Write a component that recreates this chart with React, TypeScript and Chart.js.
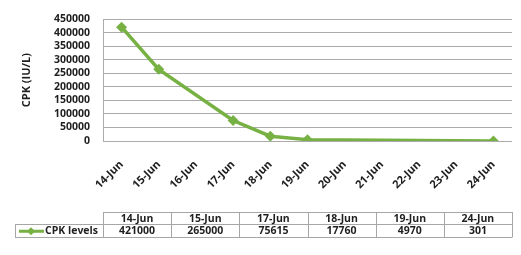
import React, { useEffect, useRef } from "react";
import { Chart, registerables } from "chart.js";

Chart.register(...registerables);

const categories = ["14-Jun", "15-Jun", "16-Jun", "17-Jun", "18-Jun", "19-Jun", "20-Jun", "21-Jun", "22-Jun", "23-Jun", "24-Jun"];
const cpkValues: (number | null)[] = [421000, 265000, null, 75615, 17760, 4970, null, null, null, null, 301];
const tableDates = ["14-Jun", "15-Jun", "17-Jun", "18-Jun", "19-Jun", "24-Jun"];
const tableValues = [421000, 265000, 75615, 17760, 4970, 301];
const seriesName = "CPK levels";
const yTitle = "CPK (IU/L)";

const GREEN = "#77b144";
const FONT = "'Open Sans', sans-serif";
const TEXT = "#1f1f1f";

const tablePlugin = {
  id: "dataTable",
  afterDraw(chart: any) {
    const ctx = chart.ctx as CanvasRenderingContext2D;
    const xs = chart.scales.x;
    const left = xs.left;
    const right = xs.right;
    const top = 212;
    const mid = 224.5;
    const bottom = 237;
    const legendLeft = 15;
    const n = tableDates.length;
    const w = (right - left) / n;
    ctx.save();
    ctx.strokeStyle = "#a6a6a6";
    ctx.lineWidth = 1;
    ctx.beginPath();
    ctx.moveTo(left, top + 0.5);
    ctx.lineTo(right, top + 0.5);
    ctx.moveTo(legendLeft, mid);
    ctx.lineTo(right, mid);
    ctx.moveTo(legendLeft, bottom + 0.5);
    ctx.lineTo(right, bottom + 0.5);
    ctx.moveTo(legendLeft + 0.5, mid);
    ctx.lineTo(legendLeft + 0.5, bottom + 0.5);
    for (let i = 0; i <= n; i++) {
      const x = Math.round(left + i * w) + 0.5;
      ctx.moveTo(x, top);
      ctx.lineTo(x, bottom + 0.5);
    }
    ctx.stroke();

    ctx.fillStyle = TEXT;
    ctx.font = `bold 10.5px ${FONT}`;
    ctx.textAlign = "center";
    ctx.textBaseline = "middle";
    for (let i = 0; i < n; i++) {
      const cx = left + (i + 0.5) * w;
      ctx.fillText(tableDates[i], cx, (top + mid) / 2 + 0.5);
      ctx.fillText(String(tableValues[i]), cx, (mid + bottom) / 2 + 0.5);
    }
    const ly = (mid + bottom) / 2 + 0.5;
    ctx.strokeStyle = GREEN;
    ctx.lineWidth = 3;
    ctx.beginPath();
    ctx.moveTo(19, ly);
    ctx.lineTo(44, ly);
    ctx.stroke();
    ctx.fillStyle = GREEN;
    ctx.beginPath();
    ctx.moveTo(31, ly - 4);
    ctx.lineTo(35, ly);
    ctx.lineTo(31, ly + 4);
    ctx.lineTo(27, ly);
    ctx.closePath();
    ctx.fill();
    ctx.fillStyle = TEXT;
    ctx.textAlign = "left";
    ctx.font = `bold 10.5px ${FONT}`;
    ctx.fillText(seriesName, 45, ly);
    ctx.restore();
  },
};

export default function App() {
  const ref = useRef<HTMLCanvasElement | null>(null);
  useEffect(() => {
    document.body.style.margin = "0";
    const canvas = ref.current!;
    const chart = new Chart(canvas, {
      type: "line",
      data: {
        labels: categories,
        datasets: [
          {
            label: seriesName,
            data: cpkValues,
            borderColor: GREEN,
            backgroundColor: GREEN,
            borderWidth: 3.5,
            pointStyle: "rectRot",
            pointRadius: 5.5,
            pointBorderWidth: 0,
            spanGaps: true,
            tension: 0,
          },
        ],
      },
      options: {
        animation: false,
        responsive: false,
        devicePixelRatio: 1,
        layout: { padding: { top: 7, right: 9, bottom: 0, left: 0 } },
        plugins: { legend: { display: false }, tooltip: { enabled: false } },
        scales: {
          x: {
            offset: true,
            grid: { display: false, drawTicks: false },
            border: { display: false },
            afterFit: (s: any) => {
              s.height = 114;
            },
            ticks: {
              autoSkip: false,
              minRotation: 45,
              maxRotation: 45,
              padding: 17,
              color: TEXT,
              font: { family: FONT, size: 11, weight: "bold" },
            },
          },
          y: {
            min: 0,
            max: 450000,
            afterFit: (s: any) => {
              s.width = 103;
            },
            grid: { color: "#ababab", drawTicks: false, lineWidth: 1 },
            border: { display: true, color: "#ababab" },
            title: {
              display: true,
              text: yTitle,
              color: TEXT,
              font: { family: FONT, size: 11, weight: "bold" },
              padding: { top: 20, bottom: 0 },
            },
            ticks: {
              stepSize: 50000,
              autoSkip: false,
              padding: 13,
              color: TEXT,
              font: { family: FONT, size: 10.5, weight: "bold" },
              callback: (v: any) => String(v),
            },
          },
        },
      },
      plugins: [tablePlugin],
    });
    return () => chart.destroy();
  }, []);
  return <canvas ref={ref} width={521} height={255} style={{ display: "block" }} />;
}
